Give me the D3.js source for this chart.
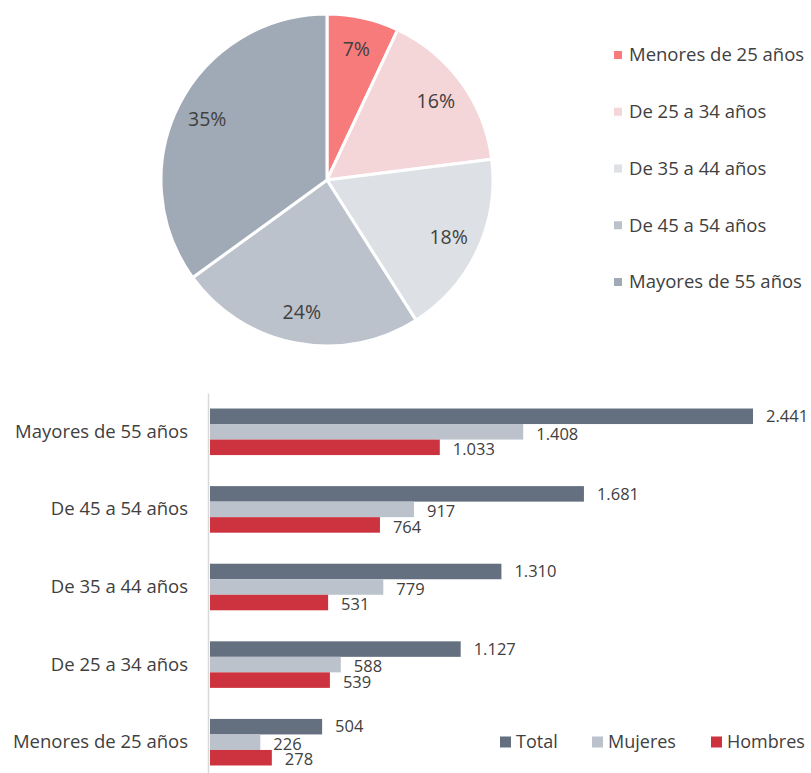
<!DOCTYPE html>
<html lang="es">
<head>
<meta charset="UTF-8">
<script src="https://cdn.jsdelivr.net/npm/d3@7"></script>
<style>
  body { margin: 0; background: #fff; font-family: "Open Sans", sans-serif; }
  svg text { fill: #404040; font-family: "Open Sans", sans-serif; }
</style>
</head>
<body>
<svg id="chart" width="811" height="773"></svg>
<script>
// categorias (orden del pastel y de la leyenda)
var categorias = ["Menores de 25 años", "De 25 a 34 años", "De 35 a 44 años", "De 45 a 54 años", "Mayores de 55 años"];
var porcentajes = [7, 16, 18, 24, 35];
var coloresPie = ["#f87b7b", "#f4d5d8", "#dde0e5", "#bcc2cc", "#a0aab6"];

// barras
var series = ["Total", "Mujeres", "Hombres"];
var total   = [504, 1127, 1310, 1681, 2441];
var mujeres = [226, 588, 779, 917, 1408];
var hombres = [278, 539, 531, 764, 1033];
var coloresBar = ["#647080", "#bcc2cc", "#cc333f"];

var svg = d3.select("#chart");
var fmt = d3.format(",");
function miles(v) { return fmt(v).replace(/,/g, "."); }

// ---- pastel ----
var cx = 327, cy = 180, r = 166;
var pie = d3.pie().sort(null).value(d => d);
var arc = d3.arc().innerRadius(0).outerRadius(r);
var arcLabel = d3.arc().innerRadius(r * 0.81).outerRadius(r * 0.81);

var gPie = svg.append("g").attr("transform", "translate(" + cx + "," + cy + ")");
var slices = pie(porcentajes);

gPie.selectAll("path")
    .data(slices)
    .enter().append("path")
    .attr("d", arc)
    .attr("fill", (d, i) => coloresPie[i])
    .attr("stroke", "#fff")
    .attr("stroke-width", 3);

gPie.selectAll("text")
    .data(slices)
    .enter().append("text")
    .attr("transform", d => "translate(" + arcLabel.centroid(d) + ")")
    .attr("text-anchor", "middle")
    .attr("dy", "0.35em")
    .style("font-size", "19.5px")
    .text(d => d.data + "%");

// leyenda del pastel
var legY = d3.scalePoint().domain(categorias).range([55, 282]);
var gLeg = svg.append("g");
var items = gLeg.selectAll("g")
    .data(categorias)
    .enter().append("g")
    .attr("transform", d => "translate(614," + legY(d) + ")");
items.append("rect")
    .attr("x", 0).attr("y", -4)
    .attr("width", 8).attr("height", 8)
    .attr("fill", (d, i) => coloresPie[i]);
items.append("text")
    .attr("x", 15)
    .attr("dy", "0.35em")
    .style("font-size", "18.5px")
    .text(d => d);

// ---- barras ----
var datos = categorias.map((c, i) => ({cat: c, valores: [total[i], mujeres[i], hombres[i]]}));
var orden = categorias.slice().reverse();

var x = d3.scaleLinear().domain([0, 2441]).range([210, 753]);
var y = d3.scaleBand().domain(orden).range([393, 781]).paddingInner(0.4).paddingOuter(0.2);
var ySub = d3.scaleBand().domain(series).range([0, y.bandwidth()]);

var grupos = svg.append("g").selectAll("g")
    .data(datos)
    .enter().append("g")
    .attr("transform", d => "translate(0," + y(d.cat) + ")");

grupos.selectAll("rect")
    .data(d => d.valores.map((v, j) => ({serie: series[j], v: v, j: j})))
    .enter().append("rect")
    .attr("x", x(0))
    .attr("y", d => ySub(d.serie))
    .attr("width", d => x(d.v) - x(0))
    .attr("height", ySub.bandwidth())
    .attr("fill", d => coloresBar[d.j]);

grupos.selectAll("text.val")
    .data(d => d.valores.map((v, j) => ({serie: series[j], v: v, j: j})))
    .enter().append("text")
    .attr("class", "val")
    .attr("x", d => x(d.v) + 13)
    .attr("y", d => ySub(d.serie) + ySub.bandwidth() / 2 + (d.j ? 2 : 0))
    .attr("dy", "0.35em")
    .style("font-size", "16.5px")
    .text(d => miles(d.v));

var yAxis = d3.axisLeft(y).tickSize(0).tickPadding(20);
var gAxis = svg.append("g")
    .attr("transform", "translate(208,0)")
    .call(yAxis);
gAxis.select(".domain").attr("stroke", "#d9d9d9").attr("stroke-width", 1.5);
gAxis.selectAll("text").style("font-size", "18.5px").style("font-family", "'Open Sans', sans-serif").attr("fill", "#404040");

// leyenda de barras
var legX = [500, 592, 711];
var gLeg2 = svg.append("g").selectAll("g")
    .data(series)
    .enter().append("g")
    .attr("transform", (d, i) => "translate(" + legX[i] + ",742)");
gLeg2.append("rect")
    .attr("x", 0).attr("y", -5.5)
    .attr("width", 11).attr("height", 11)
    .attr("fill", (d, i) => coloresBar[i]);
gLeg2.append("text")
    .attr("x", 16)
    .attr("dy", "0.35em")
    .style("font-size", "18px")
    .text(d => d);
</script>
</body>
</html>
